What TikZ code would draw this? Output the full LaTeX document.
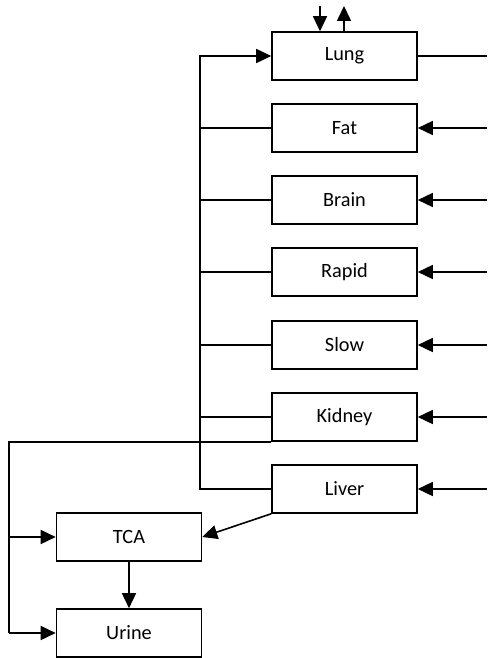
\documentclass[tikz,border=0pt]{standalone}
\usepackage{fontspec}
\setmainfont{Carlito}
\usetikzlibrary{arrows.meta}
\begin{document}
\begin{tikzpicture}[x=1pt,y=-1pt,
  box/.style={draw, line width=1.6pt, minimum width=145pt, minimum height=48pt, inner sep=0pt, font=\fontsize{20.3}{24}\selectfont},
  conn/.style={line width=1.6pt},
  arr/.style={conn, -{Triangle[length=15pt,width=14pt]}}]
\useasboundingbox (0,0) rectangle (487,658);
\node[box] (lung)   at (344.5,56)  {Lung};
\node[box] (fat)    at (344.5,128) {Fat};
\node[box] (brain)  at (344.5,200) {Brain};
\node[box] (rapid)  at (344.5,272) {Rapid};
\node[box] (slow)   at (344.5,345) {Slow};
\node[box] (kidney) at (344.5,417) {Kidney};
\node[box] (liver)  at (344.5,489) {Liver};
\node[box] (tca)    at (129,537)   {TCA};
\node[box] (urine)  at (129,633)   {Urine};
\coordinate (bustop) at (200,56);
\coordinate (busbot) at (200,489);
\coordinate (edge) at (487,0);
\coordinate (lx) at (9,0);
\coordinate (lungin) at (320,6);
\coordinate (lungout) at (344,6);
% venous bus
\draw[arr] (liver.west) -- (busbot) -- (bustop) -- (lung.west);
\foreach \n in {fat,brain,rapid,slow,kidney}
  \draw[conn] (\n.west) -- (\n.west -| bustop);
% arterial lines
\draw[conn] (lung.east) -- (lung.east -| edge);
\foreach \n in {fat,brain,rapid,slow,kidney,liver}
  \draw[arr] (\n.east -| edge) -- (\n.east);
% lung in/out
\draw[arr] (lungin) -- (lungin |- lung.north);
\draw[arr] (lungout |- lung.north) -- (lungout);
% kidney to TCA and urine
\draw[conn] (kidney.south west) -- (kidney.south west -| lx) -- (urine.west -| lx);
\draw[arr] (tca.west -| lx) -- (tca.west);
\draw[arr] (urine.west -| lx) -- (urine.west);
\draw[arr] (liver.south west) -- (tca.east);
\draw[arr] (tca.south) -- (urine.north);
\end{tikzpicture}
\end{document}
